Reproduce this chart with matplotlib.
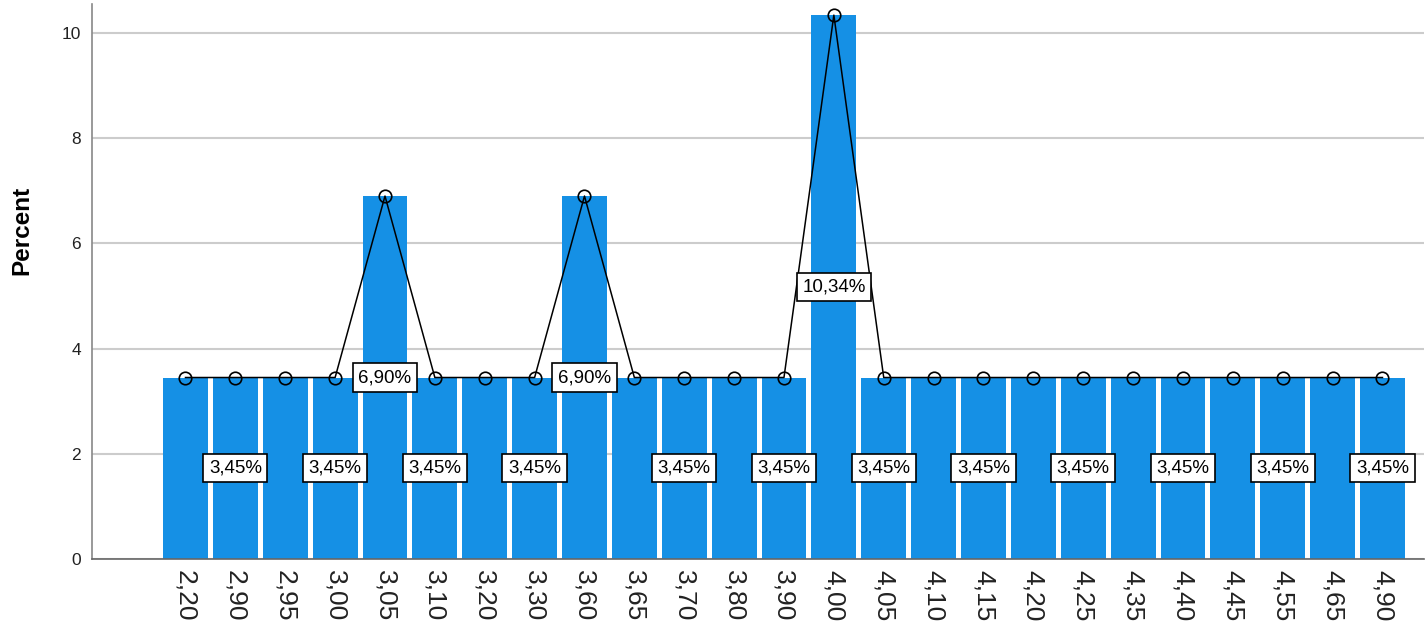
import numpy as np
import matplotlib.pyplot as plt

plt.rcParams['font.family'] = ['Liberation Sans', 'DejaVu Sans']

# categories and percentages
categories = ['2,20', '2,90', '2,95', '3,00', '3,05', '3,10', '3,20', '3,30', '3,60',
              '3,65', '3,70', '3,80', '3,90', '4,00', '4,05', '4,10', '4,15', '4,20',
              '4,25', '4,35', '4,40', '4,45', '4,55', '4,65', '4,90']
percent = [3.45, 3.45, 3.45, 3.45, 6.90, 3.45, 3.45, 3.45, 6.90,
           3.45, 3.45, 3.45, 3.45, 10.34, 3.45, 3.45, 3.45, 3.45,
           3.45, 3.45, 3.45, 3.45, 3.45, 3.45, 3.45]
# which bars carry a visible value label
labelled = ['2,90', '3,00', '3,05', '3,10', '3,30', '3,60', '3,70', '3,90',
            '4,00', '4,05', '4,15', '4,25', '4,40', '4,55', '4,90']

x = np.arange(len(categories))

fig = plt.figure(figsize=(14.26, 6.27), dpi=100)
ax = fig.add_axes([0.0645, 0.1085, 0.934, 0.885])

ax.bar(x, percent, width=0.9, color='#1590E5', zorder=2)
ax.plot(x, percent, color='black', lw=1.1, marker='o', markersize=9,
        markerfacecolor='none', markeredgecolor='black', markeredgewidth=1.2, zorder=3)

for i, cat in enumerate(categories):
    if cat in labelled:
        v = percent[i]
        ax.text(i, v / 2, f'{v:.2f}%'.replace('.', ','), ha='center', va='center',
                fontsize=13.5, zorder=4,
                bbox=dict(boxstyle='square,pad=0.3', fc='white', ec='black', lw=1.2))

ax.set_xlim(-1.875, 24.83)
ax.set_ylim(0, 10.55)
ax.set_yticks([0, 2, 4, 6, 8, 10])
ax.set_xticks(x)
ax.set_xticklabels(categories, rotation=270, fontsize=19, color='#222222')
ax.tick_params(axis='x', length=0, pad=8)
ax.tick_params(axis='y', length=0, pad=8, labelsize=12.5, labelcolor='#222222')
ax.grid(axis='y', color='#cccccc', lw=1.5, zorder=0)
ax.set_axisbelow(True)

for s in ['top', 'right']:
    ax.spines[s].set_visible(False)
ax.spines['left'].set_color('#888888')
ax.spines['left'].set_linewidth(1.2)
ax.spines['bottom'].set_color('#666666')
ax.spines['bottom'].set_linewidth(1.2)

ax.set_ylabel('Percent', fontsize=17.5, fontweight='bold')
ax.yaxis.set_label_coords(-0.0443, 0.592)

plt.savefig('out.png', dpi=100)
